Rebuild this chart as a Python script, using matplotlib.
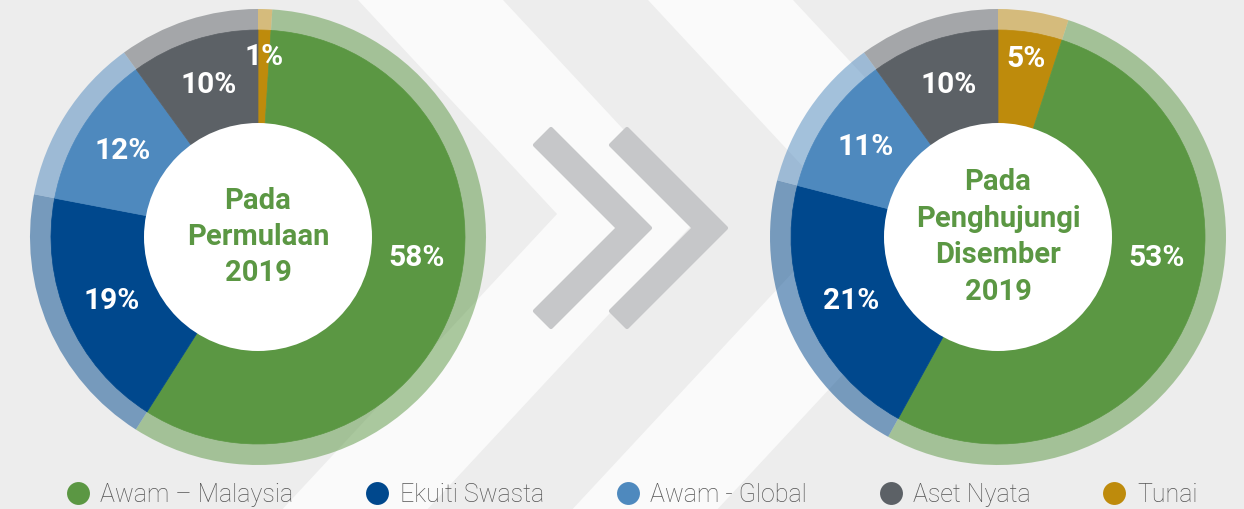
import matplotlib.pyplot as plt
import numpy as np
from matplotlib.patches import Polygon, Circle
from matplotlib.lines import Line2D

#%% data
categories = ['Awam – Malaysia', 'Ekuiti Swasta', 'Awam - Global', 'Aset Nyata', 'Tunai']
colors = ['#5b9743', '#00488d', '#4e89be', '#5c6166', '#be8b0c']
start_2019 = [58, 19, 12, 10, 1]
end_2019 = [53, 21, 11, 10, 5]
title_start = 'Pada\nPermulaan\n2019'
title_end = 'Pada\nPenghujungi\nDisember\n2019'

# drawing order clockwise from 12 o'clock: Tunai first, then the rest
pie_order = [4, 0, 1, 2, 3]

W, H = 1244, 509
fig = plt.figure(figsize=(W/100, H/100), dpi=100)
fig.patch.set_facecolor('#ededed')

#%% background chevrons + arrows (pixel coords)
bg = fig.add_axes([0, 0, 1, 1])
bg.set_xlim(0, W)
bg.set_ylim(H, 0)
bg.axis('off')
bg.set_zorder(0)

s = 0.93      # dx per dy of the stripes
ya = 214      # where the stripes turn
bw = 145      # stripe width
for x0 in [358, 648]:
    xa = x0 + s*ya
    xb = xa - s*(H - ya)
    pts = [(x0, 0), (xa, ya), (xb, H), (xb+bw, H), (xa+bw, ya), (x0+bw, 0)]
    bg.add_patch(Polygon(pts, closed=True, facecolor='#fafafa', edgecolor='none'))

for dx in [0, 76]:
    arrow = [(535, 145), (551, 129), (650, 228), (551, 327), (535, 311), (618, 228)]
    arrow = [(x+dx, y) for x, y in arrow]
    bg.add_patch(Polygon(arrow, closed=True, facecolor='#c6c7c9', edgecolor='#c6c7c9',
                         linewidth=3, joinstyle='round'))

#%% donuts
def donut(cx, cy, values, title):
    size = 500
    ax = fig.add_axes([(cx-size/2)/W, (H-cy-size/2)/H, size/W, size/H])
    ax.set_zorder(1)
    vals = [values[i] for i in pie_order]
    cols = [colors[i] for i in pie_order]
    # translucent outer ring
    ax.pie(vals, colors=cols, radius=228, startangle=90, counterclock=False,
           wedgeprops=dict(width=22, alpha=0.5, linewidth=0), frame=True)
    wedges, _ = ax.pie(vals, colors=cols, radius=207, startangle=90, counterclock=False,
                       wedgeprops=dict(linewidth=0.5), frame=True)
    for w in wedges:
        w.set_edgecolor(w.get_facecolor())
    ax.set_xlim(-size/2, size/2)
    ax.set_ylim(-size/2, size/2)
    ax.set_aspect('equal')
    ax.axis('off')
    ax.add_patch(Circle((0, 0), 114, facecolor='white', edgecolor='none', zorder=5))
    for w, v, i in zip(wedges, vals, pie_order):
        ang = (w.theta1 + w.theta2) / 2
        r = 160
        if v <= 5:
            r = 180
        if i == 0:
            ang = -7.5
        ax.text(r*np.cos(np.radians(ang)), r*np.sin(np.radians(ang)), '%d%%' % v,
                ha='center', va='center', color='white', fontsize=21.5,
                fontweight='bold', family='Roboto', zorder=6)
    ax.text(0, 0, title, ha='center', va='center', color='#5b9743', fontsize=21,
            fontweight='bold', family='Roboto', linespacing=1.38, zorder=6)

donut(258, 237, start_2019, title_start)
donut(998, 237, end_2019, title_end)

#%% legend
handles = [Line2D([], [], marker='o', linestyle='none', markersize=16.5,
                  markerfacecolor=c, markeredgecolor='none') for c in colors]
leg = fig.legend(handles, categories, loc='center', bbox_to_anchor=(632/W, (H-495)/H),
                 ncol=5, frameon=False, handlelength=0.9, handletextpad=0.45,
                 columnspacing=2.9, prop=dict(family='Roboto', weight='light', size=18))
for t in leg.get_texts():
    t.set_color('#555555')

fig.savefig('out.png', dpi=100, facecolor=fig.get_facecolor())
